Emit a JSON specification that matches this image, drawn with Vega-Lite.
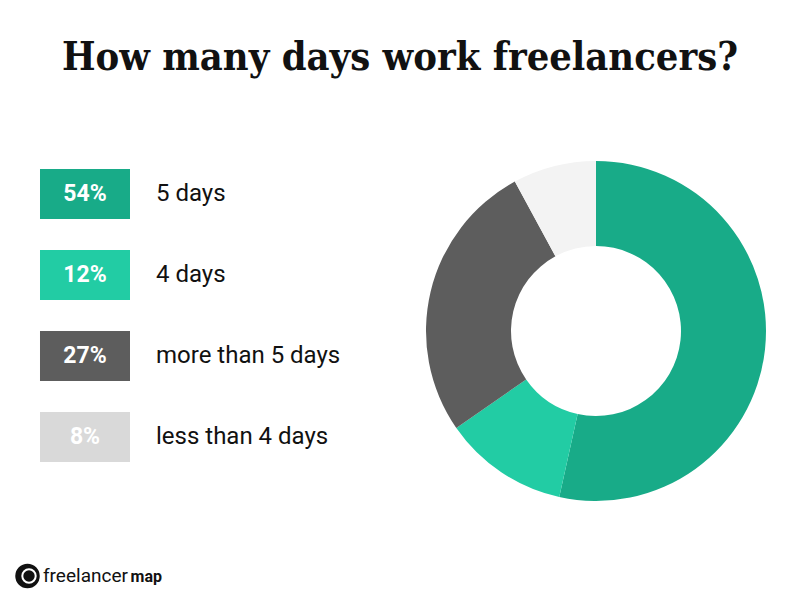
{
  "$schema": "https://vega.github.io/schema/vega-lite/v6.json",
  "background": "white",
  "padding": {"left": 10, "top": 37, "right": 10, "bottom": 5},
  "title": {"text": "How many days work freelancers?", "font": "DejaVu Serif Condensed", "fontWeight": "bold", "fontSize": 39.5, "color": "#111111", "anchor": "middle", "dx": 12, "offset": 83},
  "config": {"view": {"stroke": null}},
  "datasets": {
    "share": [
      {"days": "5 days", "pct": 0.54, "rank": 1},
      {"days": "4 days", "pct": 0.12, "rank": 2},
      {"days": "more than 5 days", "pct": 0.27, "rank": 3},
      {"days": "less than 4 days", "pct": 0.08, "rank": 4}
    ]
  },
  "spacing": 60,
  "vconcat": [
    {
      "spacing": 0,
      "resolve": {"scale": {"color": "independent", "fill": "independent"}},
      "hconcat": [
        {
          "width": 416,
          "height": 340,
          "data": {"name": "share"},
          "encoding": {
            "y": {"field": "days", "type": "nominal", "sort": null, "axis": null,
                  "scale": {"paddingInner": 0.383, "paddingOuter": 0.29, "align": 0.17}}
          },
          "layer": [
            {
              "mark": {"type": "bar"},
              "encoding": {
                "x": {"datum": 0.3333, "type": "quantitative", "scale": {"domain": [0, 4.622], "nice": false, "zero": false}, "axis": null},
                "x2": {"datum": 1.3333},
                "fill": {"field": "days", "type": "nominal", "legend": null,
                         "scale": {"domain": ["5 days", "4 days", "more than 5 days", "less than 4 days"],
                                   "range": ["#18ab88", "#22cca4", "#5d5d5d", "#d9d9d9"]}}
              }
            },
            {
              "mark": {"type": "text", "font": "Roboto", "fontWeight": "bold", "fontSize": 23, "color": "#ffffff", "align": "center", "baseline": "middle"},
              "encoding": {
                "x": {"datum": 0.8333, "type": "quantitative"},
                "text": {"field": "pct", "type": "quantitative", "format": ".0%"}
              }
            },
            {
              "mark": {"type": "text", "font": "Roboto", "fontSize": 24, "color": "#111111", "align": "left", "baseline": "middle"},
              "encoding": {
                "x": {"datum": 1.622, "type": "quantitative"},
                "text": {"field": "days", "type": "nominal"}
              }
            }
          ]
        },
        {
          "width": 340,
          "height": 340,
          "data": {"name": "share"},
          "mark": {"type": "arc", "outerRadius": 170, "innerRadius": 85},
          "encoding": {
            "theta": {"field": "pct", "type": "quantitative", "stack": true},
            "order": {"field": "rank", "type": "quantitative"},
            "color": {"field": "days", "type": "nominal", "legend": null,
                      "scale": {"domain": ["5 days", "4 days", "more than 5 days", "less than 4 days"],
                                "range": ["#18ab88", "#22cca4", "#5d5d5d", "#f3f3f3"]}}
          }
        }
      ]
    },
    {
      "width": 200,
      "height": 30,
      "layer": [
        {
          "data": {"values": [{"logo": "icon"}]},
          "mark": {"type": "circle", "size": 600, "color": "#111111", "opacity": 1},
          "encoding": {"x": {"datum": 0.0875, "type": "quantitative", "scale": {"domain": [0, 1], "nice": false}, "axis": null}}
        },
        {
          "data": {"values": [{"logo": "icon"}]},
          "mark": {"type": "point", "shape": "circle", "size": 180, "filled": false, "stroke": "#ffffff", "strokeWidth": 2, "opacity": 1},
          "encoding": {"x": {"datum": 0.095, "type": "quantitative"}}
        },
        {
          "data": {"values": [{"logo": "freelancer"}]},
          "mark": {"type": "text", "font": "Roboto", "fontSize": 19, "color": "#111111", "align": "left", "baseline": "middle"},
          "encoding": {"x": {"datum": 0.165, "type": "quantitative"}, "text": {"field": "logo", "type": "nominal"}}
        },
        {
          "data": {"values": [{"logo": "map"}]},
          "mark": {"type": "text", "font": "Roboto", "fontWeight": "bold", "fontSize": 16, "color": "#111111", "align": "left", "baseline": "middle", "dy": 1},
          "encoding": {"x": {"datum": 0.603, "type": "quantitative"}, "text": {"field": "logo", "type": "nominal"}}
        }
      ]
    }
  ]
}
